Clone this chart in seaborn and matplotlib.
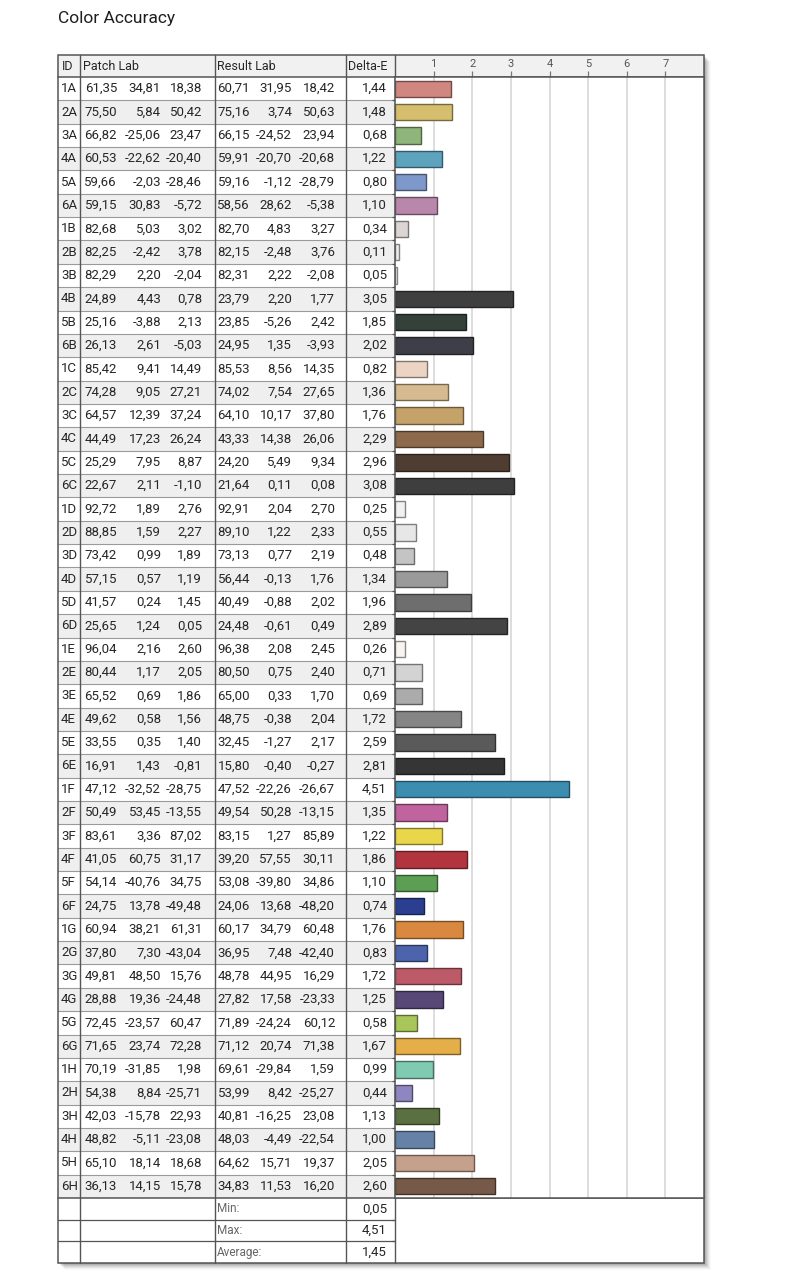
import numpy as np
import pandas as pd
import matplotlib
matplotlib.use("Agg")
import matplotlib.pyplot as plt
from matplotlib.patches import Rectangle
import matplotlib.colors as mcolors
import seaborn as sns

# ---------------- data ----------------
title = "Color Accuracy"
headers = ["ID", "Patch Lab", "Result Lab", "Delta-E"]
summary_labels = ["Min:", "Max:", "Average:"]
x_ticks = [1, 2, 3, 4, 5, 6, 7]

patch_ids = ["1A", "2A", "3A", "4A", "5A", "6A",
             "1B", "2B", "3B", "4B", "5B", "6B",
             "1C", "2C", "3C", "4C", "5C", "6C",
             "1D", "2D", "3D", "4D", "5D", "6D",
             "1E", "2E", "3E", "4E", "5E", "6E",
             "1F", "2F", "3F", "4F", "5F", "6F",
             "1G", "2G", "3G", "4G", "5G", "6G",
             "1H", "2H", "3H", "4H", "5H", "6H"]

patch_L = [61.35, 75.50, 66.82, 60.53, 59.66, 59.15,
           82.68, 82.25, 82.29, 24.89, 25.16, 26.13,
           85.42, 74.28, 64.57, 44.49, 25.29, 22.67,
           92.72, 88.85, 73.42, 57.15, 41.57, 25.65,
           96.04, 80.44, 65.52, 49.62, 33.55, 16.91,
           47.12, 50.49, 83.61, 41.05, 54.14, 24.75,
           60.94, 37.80, 49.81, 28.88, 72.45, 71.65,
           70.19, 54.38, 42.03, 48.82, 65.10, 36.13]
patch_a = [34.81, 5.84, -25.06, -22.62, -2.03, 30.83,
           5.03, -2.42, 2.20, 4.43, -3.88, 2.61,
           9.41, 9.05, 12.39, 17.23, 7.95, 2.11,
           1.89, 1.59, 0.99, 0.57, 0.24, 1.24,
           2.16, 1.17, 0.69, 0.58, 0.35, 1.43,
           -32.52, 53.45, 3.36, 60.75, -40.76, 13.78,
           38.21, 7.30, 48.50, 19.36, -23.57, 23.74,
           -31.85, 8.84, -15.78, -5.11, 18.14, 14.15]
patch_b = [18.38, 50.42, 23.47, -20.40, -28.46, -5.72,
           3.02, 3.78, -2.04, 0.78, 2.13, -5.03,
           14.49, 27.21, 37.24, 26.24, 8.87, -1.10,
           2.76, 2.27, 1.89, 1.19, 1.45, 0.05,
           2.60, 2.05, 1.86, 1.56, 1.40, -0.81,
           -28.75, -13.55, 87.02, 31.17, 34.75, -49.48,
           61.31, -43.04, 15.76, -24.48, 60.47, 72.28,
           1.98, -25.71, 22.93, -23.08, 18.68, 15.78]

result_L = [60.71, 75.16, 66.15, 59.91, 59.16, 58.56,
            82.70, 82.15, 82.31, 23.79, 23.85, 24.95,
            85.53, 74.02, 64.10, 43.33, 24.20, 21.64,
            92.91, 89.10, 73.13, 56.44, 40.49, 24.48,
            96.38, 80.50, 65.00, 48.75, 32.45, 15.80,
            47.52, 49.54, 83.15, 39.20, 53.08, 24.06,
            60.17, 36.95, 48.78, 27.82, 71.89, 71.12,
            69.61, 53.99, 40.81, 48.03, 64.62, 34.83]
result_a = [31.95, 3.74, -24.52, -20.70, -1.12, 28.62,
            4.83, -2.48, 2.22, 2.20, -5.26, 1.35,
            8.56, 7.54, 10.17, 14.38, 5.49, 0.11,
            2.04, 1.22, 0.77, -0.13, -0.88, -0.61,
            2.08, 0.75, 0.33, -0.38, -1.27, -0.40,
            -22.26, 50.28, 1.27, 57.55, -39.80, 13.68,
            34.79, 7.48, 44.95, 17.58, -24.24, 20.74,
            -29.84, 8.42, -16.25, -4.49, 15.71, 11.53]
result_b = [18.42, 50.63, 23.94, -20.68, -28.79, -5.38,
            3.27, 3.76, -2.08, 1.77, 2.42, -3.93,
            14.35, 27.65, 37.80, 26.06, 9.34, 0.08,
            2.70, 2.33, 2.19, 1.76, 2.02, 0.49,
            2.45, 2.40, 1.70, 2.04, 2.17, -0.27,
            -26.67, -13.15, 85.89, 30.11, 34.86, -48.20,
            60.48, -42.40, 16.29, -23.33, 60.12, 71.38,
            1.59, -25.27, 23.08, -22.54, 19.37, 16.20]

delta_e = [1.44, 1.48, 0.68, 1.22, 0.80, 1.10,
           0.34, 0.11, 0.05, 3.05, 1.85, 2.02,
           0.82, 1.36, 1.76, 2.29, 2.96, 3.08,
           0.25, 0.55, 0.48, 1.34, 1.96, 2.89,
           0.26, 0.71, 0.69, 1.72, 2.59, 2.81,
           4.51, 1.35, 1.22, 1.86, 1.10, 0.74,
           1.76, 0.83, 1.72, 1.25, 0.58, 1.67,
           0.99, 0.44, 1.13, 1.00, 2.05, 2.60]

bar_colors = ["#cf8780", "#d5bf6f", "#8fb57a", "#5ea3be", "#7f98cc", "#b987ab",
              "#ddd5d3", "#ebebeb", "#f2f2f2", "#3f3f3f", "#34403a", "#3e3e48",
              "#ecd4c4", "#d6bb90", "#c4a26a", "#8d6a4b", "#4f3d31", "#3e3e3e",
              "#f1f1f1", "#e7e7e7", "#c4c4c4", "#9a9a9a", "#6e6e6e", "#444444",
              "#f8f5f1", "#d3d3d3", "#ababab", "#858585", "#5a5a5a", "#353535",
              "#3d8db0", "#c0649f", "#ead64a", "#b2343f", "#5d9e55", "#2a3f90",
              "#d9883f", "#4d64ad", "#bd5a68", "#574877", "#a9c65a", "#e4ae48",
              "#80cab2", "#8e86c0", "#5a7041", "#6582a6", "#c5a08c", "#765948"]

# ---------------- layout ----------------
W, H = 800, 1279
X0, X_ID, X_PATCH, X_RES, X_DE, X1 = 58, 80, 215, 346, 395, 704
Y0, Y_HDR, Y_END, Y1 = 55, 77, 1198, 1263
n = len(patch_ids)
row_h = (Y_END - Y_HDR) / n
sum_h = (Y1 - Y_END) / 3
patch_right = [117, 161, 202]
result_right = [250, 292, 335]
de_right = 387

TXT = "#262626"
LINE_DARK = "#555555"
LINE_ROW = "#9a9a9a"
SHADE = "#efefef"

sns.set_theme(style="white")
plt.rcParams["font.family"] = ["Roboto", "DejaVu Sans"]


def fmt(v):
    return f"{v:.2f}".replace(".", ",")


fig = plt.figure(figsize=(W / 100, H / 100), dpi=100, facecolor="white")
bg = fig.add_axes([0, 0, 1, 1])
bg.set_xlim(0, W)
bg.set_ylim(H, 0)
bg.axis("off")

# title
bg.text(X0, 18, title, ha="left", va="center", fontsize=12.5, color="#1e1e1e")

# drop shadow
for k, a in [(1, 0.10), (2, 0.09), (3, 0.08), (4, 0.06), (5, 0.05), (6, 0.035), (7, 0.02)]:
    bg.add_patch(Rectangle((X0 + k, Y0 + k), X1 - X0, Y1 - Y0, facecolor="black",
                           alpha=a, edgecolor="none", zorder=0))
bg.add_patch(Rectangle((X0, Y0), X1 - X0, Y1 - Y0, facecolor="white",
                       edgecolor="none", zorder=1))

# header background
bg.add_patch(Rectangle((X0, Y0), X1 - X0, Y_HDR - Y0, facecolor="#f1f1f1",
                       edgecolor="none", zorder=1.5))

# row shading
for i in range(n):
    if i % 2 == 1:
        bg.add_patch(Rectangle((X0, Y_HDR + i * row_h), X_DE - X0, row_h,
                               facecolor=SHADE, edgecolor="none", zorder=1.5))

# row separators
for i in range(1, n):
    y = Y_HDR + i * row_h
    bg.plot([X0, X_DE], [y, y], color=LINE_ROW, lw=0.8, zorder=2)
for j in range(1, 3):
    y = Y_END + j * sum_h
    bg.plot([X0, X_DE], [y, y], color=LINE_DARK, lw=0.9, zorder=2)
    bg.plot([X_DE - 3, X_DE], [y, y], color=LINE_DARK, lw=0.9, zorder=2)

# strong lines
for x in [X_ID, X_PATCH, X_RES, X_DE]:
    bg.plot([x, x], [Y0, Y1], color=LINE_DARK, lw=1.0, zorder=3)
for y in [Y_HDR, Y_END]:
    bg.plot([X0, X1], [y, y], color=LINE_DARK, lw=1.1, zorder=3)
bg.add_patch(Rectangle((X0, Y0), X1 - X0, Y1 - Y0, facecolor="none",
                       edgecolor=LINE_DARK, lw=1.1, zorder=3))

# header texts
hy = (Y0 + Y_HDR) / 2
bg.text(X0 + 4, hy, headers[0], ha="left", va="center", fontsize=9, color=TXT, zorder=4)
bg.text(X_ID + 3, hy, headers[1], ha="left", va="center", fontsize=9, color=TXT, zorder=4)
bg.text(X_PATCH + 2, hy, headers[2], ha="left", va="center", fontsize=9, color=TXT, zorder=4)
bg.text(X_RES + 2, hy, headers[3], ha="left", va="center", fontsize=9, color=TXT, zorder=4)

# data rows
fs = 9.5
for i in range(n):
    y = Y_HDR + (i + 0.5) * row_h
    bg.text(X0 + 3, y, patch_ids[i], ha="left", va="center", fontsize=fs, color=TXT, zorder=4)
    for xr, v in zip(patch_right, [patch_L[i], patch_a[i], patch_b[i]]):
        bg.text(xr, y, fmt(v), ha="right", va="center", fontsize=fs, color=TXT, zorder=4)
    for xr, v in zip(result_right, [result_L[i], result_a[i], result_b[i]]):
        bg.text(xr, y, fmt(v), ha="right", va="center", fontsize=fs, color=TXT, zorder=4)
    bg.text(de_right, y, fmt(delta_e[i]), ha="right", va="center", fontsize=fs, color=TXT, zorder=4)

# summary rows
de_arr = np.array(delta_e)
summary_vals = [de_arr.min(), de_arr.max(), de_arr.mean()]
for j, (lab, v) in enumerate(zip(summary_labels, summary_vals)):
    y = Y_END + (j + 0.5) * sum_h
    bg.text(X_PATCH + 2, y, lab, ha="left", va="center", fontsize=8.5, color="#666666", zorder=4)
    bg.text(de_right, y, fmt(v), ha="right", va="center", fontsize=fs, color=TXT, zorder=4)

# ---------------- bar chart ----------------
ax = fig.add_axes([X_DE / W, 1 - Y_END / H, (X1 - X_DE) / W, (Y_END - Y_HDR) / H])
df = pd.DataFrame({"ID": patch_ids, "Delta-E": delta_e})
palette = dict(zip(patch_ids, bar_colors))
sns.barplot(data=df, x="Delta-E", y="ID", hue="ID", palette=palette,
            order=patch_ids, hue_order=patch_ids, orient="h", width=0.7,
            errorbar=None, legend=False, saturation=1, linewidth=1.0, ax=ax)
for p in ax.patches:
    fc = np.array(mcolors.to_rgb(p.get_facecolor()))
    p.set_edgecolor(tuple(fc * 0.55))
    p.set_linewidth(1.0)

ax.set_xlim(0, 8)
ax.set_ylim(n - 0.5, -0.5)
ax.set_xlabel("")
ax.set_ylabel("")
ax.set_xticks(x_ticks)
ax.set_xticklabels([str(t) for t in x_ticks])
ax.xaxis.tick_top()
ax.tick_params(axis="x", which="major", top=True, bottom=False, labeltop=True,
               labelbottom=False, direction="out", length=4, width=0.9,
               color="#777777", labelcolor="#555555", labelsize=8, pad=2)
ax.set_yticks(np.arange(0.5, n - 1, 1))
ax.tick_params(axis="y", left=True, labelleft=False, direction="out",
               length=2.5, width=0.9, color=LINE_DARK)
ax.grid(axis="x", color="#dadada", lw=1.3)
ax.grid(axis="y", visible=False)
ax.set_axisbelow(True)
for s in ax.spines.values():
    s.set_color(LINE_DARK)
    s.set_linewidth(1.1)

fig.savefig("out.png", dpi=100, facecolor="white")
